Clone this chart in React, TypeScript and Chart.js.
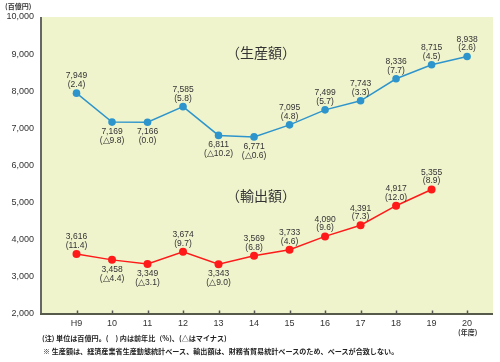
import React, { useEffect, useRef } from "react";
import { Chart, registerables } from "chart.js";

Chart.register(...registerables);

const years = ["H9", "10", "11", "12", "13", "14", "15", "16", "17", "18", "19", "20"];
const production = [7949, 7169, 7166, 7585, 6811, 6771, 7095, 7499, 7743, 8336, 8715, 8938];
const productionGrowth = ["(2.4)", "(△9.8)", "(0.0)", "(5.8)", "(△10.2)", "(△0.6)", "(4.8)", "(5.7)", "(3.3)", "(7.7)", "(4.5)", "(2.6)"];
const productionPlace = ["up", "down", "down", "up", "down", "down", "up", "up", "up", "up", "up", "up"];
const exportsVal = [3616, 3458, 3349, 3674, 3343, 3569, 3733, 4090, 4391, 4917, 5355];
const exportsGrowth = ["(11.4)", "(△4.4)", "(△3.1)", "(9.7)", "(△9.0)", "(6.8)", "(4.6)", "(9.6)", "(7.3)", "(12.0)", "(8.9)"];
const exportsPlace = ["up", "down", "down", "up", "down", "up", "up", "up", "up", "up", "up"];
const yTicks = [2000, 3000, 4000, 5000, 6000, 7000, 8000, 9000, 10000];

const fmt = (v: number) => v.toLocaleString("en-US");

const BLUE = "#2e95cc";
const RED = "#ff1a1a";

const labelsPlugin = {
  id: "pointLabels",
  afterDatasetsDraw(chart: any) {
    const ctx = chart.ctx;
    const sets = [
      { vals: production, growth: productionGrowth, place: productionPlace },
      { vals: exportsVal, growth: exportsGrowth, place: exportsPlace },
    ];
    ctx.save();
    ctx.font = "8.5px 'Liberation Sans', Arial, sans-serif";
    ctx.fillStyle = "#333";
    ctx.textAlign = "center";
    ctx.textBaseline = "middle";
    sets.forEach((s, di) => {
      const meta = chart.getDatasetMeta(di);
      meta.data.forEach((pt: any, i: number) => {
        const x = pt.x;
        const y = pt.y;
        if (s.place[i] === "up") {
          ctx.fillText(fmt(s.vals[i]), x, y - 17);
          ctx.fillText(s.growth[i], x, y - 8.5);
        } else {
          ctx.fillText(fmt(s.vals[i]), x, y + 9.5);
          ctx.fillText(s.growth[i], x, y + 18.5);
        }
      });
    });
    ctx.restore();
  },
};

const framePlugin = {
  id: "frame",
  beforeDatasetsDraw(chart: any) {
    const { ctx, chartArea } = chart;
    const xs = chart.scales.x;
    ctx.save();
    ctx.strokeStyle = "#555";
    ctx.lineWidth = 1.5;
    years.forEach((_, i) => {
      const px = Math.round(xs.getPixelForValue(i)) + 0.5;
      ctx.beginPath();
      ctx.moveTo(px, chartArea.bottom);
      ctx.lineTo(px, chartArea.bottom - 3.5);
      ctx.stroke();
    });
    ctx.restore();
  },
  beforeDraw(chart: any) {
    const { ctx, chartArea } = chart;
    ctx.save();
    ctx.fillStyle = "#f0f4cd";
    ctx.fillRect(chartArea.left, chartArea.top, chartArea.right - chartArea.left, chartArea.bottom - chartArea.top);
    ctx.restore();
  },
  afterDraw(chart: any) {
    const { ctx, chartArea } = chart;
    ctx.save();
    ctx.lineWidth = 2;
    ctx.strokeStyle = "#666";
    ctx.beginPath();
    ctx.moveTo(chartArea.left, chartArea.top);
    ctx.lineTo(chartArea.left, chartArea.bottom);
    ctx.stroke();
    ctx.strokeStyle = "#555a4a";
    ctx.beginPath();
    ctx.moveTo(chartArea.left - 1, chartArea.bottom);
    ctx.lineTo(chartArea.right, chartArea.bottom);
    ctx.stroke();
    ctx.restore();
  },
};

export default function App() {
  const ref = useRef<HTMLCanvasElement>(null);
  useEffect(() => {
    if (!ref.current) return;
    const chart = new Chart(ref.current, {
      type: "line",
      data: {
        datasets: [
          {
            label: "生産額",
            data: production.map((v, i) => ({ x: i, y: v })),
            borderColor: BLUE,
            backgroundColor: BLUE,
            borderWidth: 1.5,
            pointRadius: 3.8,
            pointBorderWidth: 0,
            tension: 0,
          },
          {
            label: "輸出額",
            data: exportsVal.map((v, i) => ({ x: i, y: v })),
            borderColor: RED,
            backgroundColor: RED,
            borderWidth: 1.5,
            pointRadius: 4,
            pointBorderWidth: 0,
            tension: 0,
          },
        ],
      },
      options: {
        responsive: false,
        animation: false,
        layout: { padding: { left: 0, top: 17, right: 7, bottom: 0 } },
        plugins: { legend: { display: false }, tooltip: { enabled: false } },
        scales: {
          x: {
            type: "linear",
            min: -1.0,
            max: 11.73,
            grid: { display: false, drawTicks: false },
            border: { display: false },
            afterBuildTicks: (scale: any) => {
              scale.ticks = years.map((_, i) => ({ value: i }));
            },
            afterFit: (scale: any) => {
              scale.height = 48;
            },
            ticks: {
              padding: 4,
              maxRotation: 0,
              autoSkip: false,
              color: "#333",
              font: { size: 9, family: "'Liberation Sans', Arial, sans-serif" },
              callback: (v: any) => years[v as number] ?? "",
            },
          },
          y: {
            type: "linear",
            min: 2000,
            max: 10000,
            grid: { display: false, drawTicks: false },
            border: { display: false },
            afterBuildTicks: (scale: any) => {
              scale.ticks = yTicks.map((v) => ({ value: v }));
            },
            afterFit: (scale: any) => {
              scale.width = 41;
            },
            ticks: {
              padding: 7,
              color: "#333",
              font: { size: 9, family: "'Liberation Sans', Arial, sans-serif" },
              callback: (v: any) => fmt(v as number),
            },
          },
        },
      },
      plugins: [framePlugin, labelsPlugin],
    } as any);
    return () => chart.destroy();
  }, []);

  const jp = "'Noto Sans CJK JP', sans-serif";
  const abs = (extra: React.CSSProperties): React.CSSProperties => ({
    position: "absolute",
    fontFamily: jp,
    color: "#222",
    whiteSpace: "nowrap",
    lineHeight: 1,
    ...extra,
  });

  return (
    <div style={{ position: "absolute", left: 0, top: 0, width: 500, height: 362, background: "#fff" }}>
      <canvas ref={ref} width={500} height={362} style={{ position: "absolute", left: 0, top: 0 }} />
      <div style={abs({ left: 5, top: 3, fontSize: 7, fontWeight: 700, color: "#333" })}>(百億円)</div>
      <div style={abs({ left: 226, top: 45, fontSize: 14, color: "#333" })}>（生産額）</div>
      <div style={abs({ left: 226, top: 188, fontSize: 14, color: "#333" })}>（輸出額）</div>
      <div style={abs({ left: 458, top: 329, fontSize: 7, fontWeight: 700, color: "#333" })}>(年度)</div>
      <div style={abs({ left: 42, top: 335, fontSize: 7.1, fontWeight: 700 })}>(注) 単位は百億円。(　) 内は前年比（%)、(△はマイナス)</div>
      <div style={abs({ left: 43, top: 348, fontSize: 7.1, fontWeight: 700 })}>※ 生産額は、経済産業省生産動態統計ベース、輸出額は、財務省貿易統計ベースのため、ベースが合致しない。</div>
    </div>
  );
}
